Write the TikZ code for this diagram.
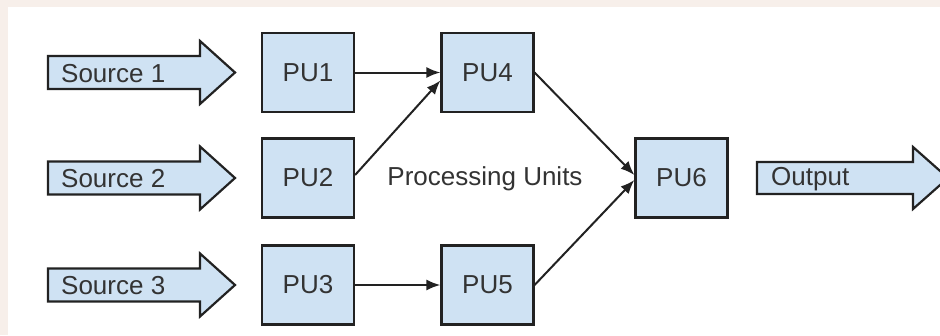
\documentclass[tikz,border=0pt]{standalone}
\usepackage{fontspec}
\setmainfont{Liberation Sans}
\usetikzlibrary{arrows.meta}
\definecolor{pufill}{HTML}{CFE2F3}
\definecolor{edgecol}{HTML}{222222}
\definecolor{txtcol}{HTML}{333333}
\definecolor{frame}{HTML}{F7EFEA}
\begin{document}
\begin{tikzpicture}[x=1bp,y=-1bp,
  every node/.style={font=\fontsize{26bp}{30bp}\selectfont, text=txtcol},
  unit/.style={draw=edgecol, fill=pufill, line width=2.2bp, minimum width=92bp,
               minimum height=79bp, inner sep=0pt},
  flow/.style={draw=edgecol, line width=2bp, -{Latex[length=14bp,width=11bp]}},
  bigarrow/.style={draw=edgecol, fill=pufill, line width=2.2bp, line join=miter},
  label/.style={anchor=west, inner sep=0pt}]
  % page background and white canvas
  \fill[frame] (0,0) rectangle (940,335);
  \fill[white] (8,7) rectangle (940,335);
  \useasboundingbox (0,0) rectangle (940,335);
  \clip (0,0) rectangle (940,335);

  % input block arrows
  \foreach \yc/\n in {72.5/1, 178/2, 285/3}{
    \draw[bigarrow] (48,\yc-16.5) -- (200,\yc-16.5) -- (200,\yc-31.5) -- (235,\yc)
      -- (200,\yc+31.5) -- (200,\yc+16.5) -- (48,\yc+16.5) -- cycle;
    \node[label] (src\n) at (61,\yc+1) {Source \n};
  }

  % output block arrow
  \draw[bigarrow] (757,162) -- (913,162) -- (913,147) -- (948,178)
    -- (913,209) -- (913,194) -- (757,194) -- cycle;
  \node[label] (out) at (771,179) {Output};

  % processing units
  \node[unit] (pu1) at (308,72.5) {PU1};
  \node[unit] (pu2) at (308,178) {PU2};
  \node[unit] (pu3) at (308,285) {PU3};
  \node[unit] (pu4) at (487.5,72.5) {PU4};
  \node[unit] (pu5) at (487.5,285) {PU5};
  \node[unit] (pu6) at (681.5,178) {PU6};

  \node (caption) at (485,179) {Processing Units};

  % connections between units
  \draw[flow] (pu1.east) -- (pu4.west);
  \draw[flow] ([yshift=3bp]pu2.east) -- ([yshift=-8bp]pu4.west);
  \draw[flow] (pu3.east) -- (pu5.west);
  \draw[flow] (pu4.east) -- ([yshift=3bp]pu6.west);
  \draw[flow] (pu5.east) -- ([yshift=-2bp]pu6.west);
\end{tikzpicture}
\end{document}
